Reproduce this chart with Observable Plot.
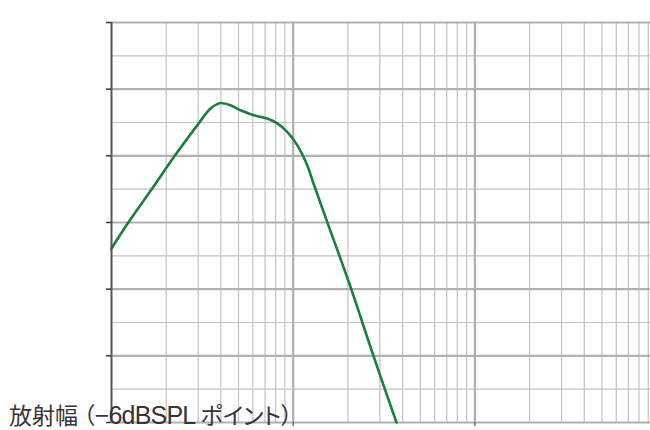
<!DOCTYPE html>
<html>
<head>
<meta charset="utf-8">
<script src="https://cdn.jsdelivr.net/npm/d3@7"></script>
<script src="https://cdn.jsdelivr.net/npm/@observablehq/plot@0.6"></script>
<style>
  html, body { margin: 0; padding: 0; background: #fff; }
  #wrap { position: relative; width: 650px; height: 430px; }
  #caption {
    position: absolute; left: 9px; top: 403px;
    font-family: "Noto Sans CJK JP", sans-serif; font-size: 23px;
    font-feature-settings: "palt";
    color: #3a3335; white-space: nowrap; line-height: 1;
  }
  #caption .lat { font-family: "Liberation Sans Narrow", "Liberation Sans", sans-serif; font-size: 25px; letter-spacing: -0.8px; }
</style>
</head>
<body>
<div id="wrap"><div id="caption"><span id="c1"></span><span id="c2" class="lat"></span><span id="c3"></span></div></div>
<script>
// Frequency (Hz) and coverage angle (degrees)
const freq  = [100, 124.5, 167.5, 222, 302, 350.6, 389.5, 401.6, 451.8, 512.8, 607, 719, 816.6, 926.8, 1052, 1194, 1298, 1538, 2067, 2777, 3703];
const angle = [78.3, 90.3, 105.3, 119.8, 134.6, 141.3, 143.6, 143.8, 142.8, 140.5, 138.3, 136.8, 134.6, 130.8, 124.8, 115.8, 107.2, 90.3, 61, 29.5, 0];
const decades = [100, 1000, 10000];
const multiples = [2, 3, 4, 5, 6, 7, 8, 9];
const yMajor = [0, 30, 60, 90, 120, 150, 180];
const yMinor = [15, 45, 75, 105, 135, 165];
const xMajor = [1000, 10000];
const captionParts = ["放射幅 （", "−6dBSPL", " ポイント）"];

const data = freq.map((f, i) => ({f, a: angle[i]}));
const xMinor = decades.flatMap(d => multiples.map(m => d * m));
const xMax = 100 * Math.pow(10, 539 / 181.7);

const chart = Plot.plot({
  width: 650,
  height: 430,
  marginLeft: 111,
  marginRight: 0,
  marginTop: 22,
  marginBottom: 8,
  x: {type: "log", domain: [100, xMax], axis: null},
  y: {domain: [0, 180], axis: null},
  marks: [
    Plot.ruleX(xMinor, {stroke: "#c2c2c2", strokeWidth: 1.2}),
    Plot.ruleY(yMinor, {stroke: "#c2c2c2", strokeWidth: 1.2}),
    Plot.ruleY(yMajor, {stroke: "#b0b0b0", strokeWidth: 2.2}),
    Plot.ruleX(xMajor, {stroke: "#b0b0b0", strokeWidth: 2.2}),
    Plot.line(data, {x: "f", y: "a", stroke: "#1b7d3e", strokeWidth: 2.6, curve: "catmull-rom"}),
    Plot.ruleX([100], {stroke: "#5a5052", strokeWidth: 2}),
    Plot.axisY({ticks: yMajor, tickSize: 5, tickFormat: () => "", label: null, stroke: "#3a3335", strokeWidth: 1.5}),
    Plot.axisX({ticks: xMajor, tickSize: 4, tickFormat: () => "", label: null, stroke: "#3a3335", strokeWidth: 1, anchor: "bottom"})
  ]
});
document.getElementById("wrap").prepend(chart);
["c1", "c2", "c3"].forEach((id, i) => document.getElementById(id).textContent = captionParts[i]);
</script>
</body>
</html>
